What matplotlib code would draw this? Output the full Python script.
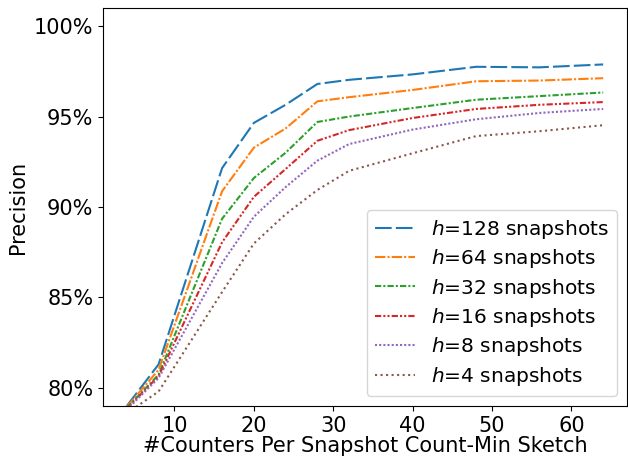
import matplotlib
matplotlib.use("Agg")
from matplotlib import pyplot as plt
from matplotlib.ticker import FuncFormatter

# Counters per snapshot (x) and precision (%) per number of snapshots h
contadores = [4, 8, 16, 20, 24, 28, 32, 40, 48, 56, 64]
h128 = [79.0, 81.3, 92.15, 94.65, 95.65, 96.8, 97.03, 97.33, 97.75, 97.72, 97.88]
h64 = [78.95, 81.0, 90.87, 93.28, 94.34, 95.84, 96.07, 96.47, 96.95, 96.99, 97.12]
h32 = [78.9, 80.73, 89.35, 91.6, 93.0, 94.7, 95.0, 95.47, 95.93, 96.13, 96.33]
h16 = [78.85, 80.65, 88.05, 90.56, 92.1, 93.66, 94.25, 94.92, 95.42, 95.65, 95.8]
h8 = [78.8, 80.55, 86.9, 89.46, 91.1, 92.56, 93.48, 94.28, 94.85, 95.2, 95.42]
h4 = [78.6, 79.8, 85.3, 87.98, 89.6, 90.94, 92.0, 92.97, 93.92, 94.19, 94.52]

series = [
    (h128, "$h$=128 snapshots", (8, 2)),
    (h64, "$h$=64 snapshots", (5, 1, 1, 1)),
    (h32, "$h$=32 snapshots", (3, 1, 1, 1)),
    (h16, "$h$=16 snapshots", (3, 1, 1, 1, 1, 1)),
    (h8, "$h$=8 snapshots", (1, 1)),
    (h4, "$h$=4 snapshots", (1, 1.65)),
]

plt.rcParams['font.size'] = 15

fig = plt.figure(figsize=(6.28, 4.58), dpi=100)
ax = fig.add_axes([103 / 628, 1 - 406 / 458, 524 / 628, 398 / 458])

for valores, rotulo, tracos in series:
    ax.plot(contadores, valores, label=rotulo, dashes=tracos, linewidth=1.5)

ax.set_ylim(79, 101)
ax.set_yticks([80, 85, 90, 95, 100])
ax.yaxis.set_major_formatter(FuncFormatter(lambda v, _: f"{v:.0f}%"))
ax.set_xticks([10, 20, 30, 40, 50, 60])
# labelpad 0 so the label fits inside the short figure
ax.set_xlabel("#Counters Per Snapshot Count-Min Sketch", labelpad=0)
ax.set_ylabel("Precision")
ax.legend(loc="lower right", fontsize=14.5, labelspacing=0.32)

fig.savefig("out.png", dpi=100)
